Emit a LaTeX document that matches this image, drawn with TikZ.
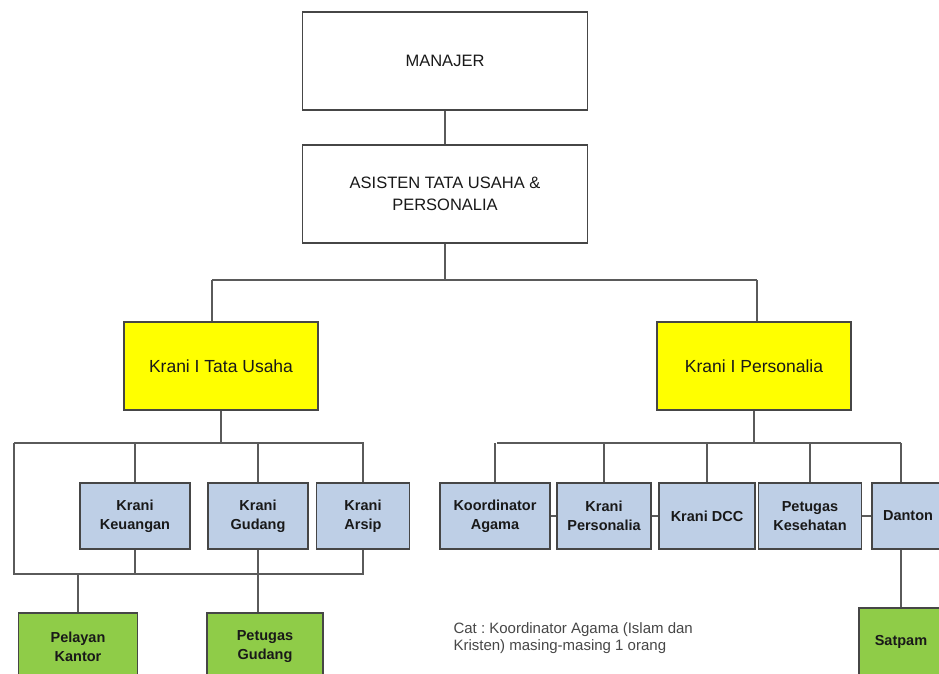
\documentclass[tikz,border=0pt]{standalone}
\usepackage{fontspec}
\setmainfont{Liberation Sans}
\usetikzlibrary{calc}
\frenchspacing

\definecolor{kuning}{RGB}{255,255,0}
\definecolor{biru}{RGB}{190,207,230}
\definecolor{hijau}{RGB}{143,204,72}
\definecolor{garis}{RGB}{90,90,90}
\definecolor{tepi}{RGB}{70,70,70}

\tikzset{
  kotak/.style={rectangle,draw=tepi,line width=1.3pt,align=center,text=black!90,inner sep=2pt},
  kotakatas/.style={kotak,fill=white,minimum width=285pt,minimum height=98pt,
    font=\fontsize{16.5}{22}\selectfont},
  kotakkuning/.style={kotak,fill=kuning,minimum width=194pt,minimum height=88pt,
    font=\fontsize{17.5}{20}\selectfont},
  kotakbiru/.style={kotak,fill=biru,minimum height=66pt,
    font=\fontsize{14.5}{19}\selectfont\bfseries},
  kotakhijau/.style={kotak,fill=hijau,minimum height=67pt,
    font=\fontsize{14.5}{19}\selectfont\bfseries},
  hubung/.style={draw=garis,line width=1.4pt},
}

\begin{document}
\begin{tikzpicture}[x=1pt,y=-1pt]

\fill[white] (0,0) rectangle (939,674);
\useasboundingbox (0,0) rectangle (939,674);
\clip (0,0) rectangle (939,674);

    \node[kotakatas] (manajer) at (445,61) {MANAJER};
    \node[kotakatas] (asisten) at (445,194) {ASISTEN TATA USAHA \&\\PERSONALIA};

    \node[kotakkuning] (kraniTU) at (221,366) {Krani I Tata Usaha};
    \node[kotakkuning] (kraniPers) at (754,366) {Krani I Personalia};

    \node[kotakbiru,minimum width=110pt] (keuangan) at (135,516) {Krani\\Keuangan};
    \node[kotakbiru,minimum width=100pt] (gudang) at (258,516) {Krani\\Gudang};
    \node[kotakbiru,minimum width=93pt] (arsip) at (363,516) {Krani\\Arsip};

    \node[kotakbiru,minimum width=110pt] (koordinator) at (495,516) {Koordinator\\Agama};
    \node[kotakbiru,minimum width=94pt] (kraniP) at (604,516) {Krani\\Personalia};
    \node[kotakbiru,minimum width=96pt] (dcc) at (707,516) {Krani DCC};
    \node[kotakbiru,minimum width=103pt] (kesehatan) at (810,516) {Petugas\\Kesehatan};
    \node[kotakbiru,minimum width=72pt] (danton) at (908,516) {Danton};

    \node[kotakhijau,minimum width=119pt] (pelayan) at (78,646.5) {Pelayan\\Kantor};
    \node[kotakhijau,minimum width=116pt] (ptgGudang) at (265,646.5) {Petugas\\Gudang};
    \node[kotakhijau,minimum width=84pt,minimum height=68pt] (satpam) at (901,642) {Satpam};

    \node[anchor=west,align=left,text=black!72,font=\fontsize{15}{17}\selectfont]
      (catatan) at (450,638) {Cat : Koordinator Agama (Islam dan\\Kristen) masing-masing 1 orang};

    \coordinate (busA) at (212,280);
    \coordinate (busB) at (757,280);
    \coordinate (busC) at (14,443);
    \coordinate (busE) at (14,574);
    \coordinate (busF) at (497,443);

    \draw[hubung] (manajer) -- (asisten);
    \draw[hubung] (asisten.south) -- (asisten.south |- busA);
    \draw[hubung] (busA) -- (busB);
    \draw[hubung] (busA) -- (busA |- kraniTU.north);
    \draw[hubung] (busB) -- (busB |- kraniPers.north);

    % tata usaha
    \draw[hubung] (kraniTU.south) -- (kraniTU.south |- busC);
    \draw[hubung] (busC) -- (arsip.north |- busC) -- (arsip.north);
    \draw[hubung] (keuangan.north) -- (keuangan.north |- busC);
    \draw[hubung] (gudang.north) -- (gudang.north |- busC);
    \draw[hubung] (busC) -- (busE) -- (arsip.south |- busE) -- (arsip.south);
    \draw[hubung] (keuangan.south) -- (keuangan.south |- busE);
    \draw[hubung] (pelayan.north) -- (pelayan.north |- busE);
    \draw[hubung] (gudang.south) -- (gudang.south |- ptgGudang.north);

    % personalia
    \draw[hubung] (kraniPers.south) -- (kraniPers.south |- busF);
    \draw[hubung] (busF) -- (satpam.north |- busF);
    \draw[hubung] (koordinator.north) -- (koordinator.north |- busF);
    \draw[hubung] (kraniP.north) -- (kraniP.north |- busF);
    \draw[hubung] (dcc.north) -- (dcc.north |- busF);
    \draw[hubung] (kesehatan.north) -- (kesehatan.north |- busF);
    \draw[hubung] (satpam.north |- danton.north) -- (satpam.north |- busF);
    \draw[hubung] (koordinator) -- (kraniP);
    \draw[hubung] (kraniP) -- (dcc);
    \draw[hubung] (kesehatan) -- (danton);
    \draw[hubung] (satpam.north |- danton.south) -- (satpam.north);

\end{tikzpicture}
\end{document}
